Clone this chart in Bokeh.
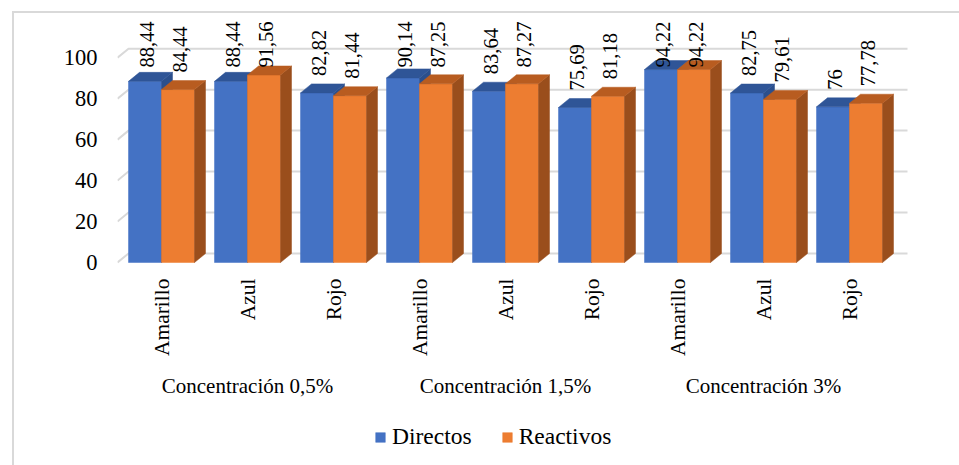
import math
from bokeh.plotting import figure
from bokeh.models import (Range1d, FixedTicker, Legend, LegendItem, ColumnDataSource)
from bokeh.core.properties import value
from bokeh.embed import file_html
from bokeh.resources import INLINE

# ---------------- data ----------------
groups = ["Concentración 0,5%", "Concentración 1,5%", "Concentración 3%"]
colores = ["Amarillo", "Azul", "Rojo"]
directos = [88.44, 88.44, 82.82, 90.14, 83.64, 75.69, 94.22, 82.75, 76.0]
reactivos = [84.44, 91.56, 81.44, 87.25, 87.27, 81.18, 94.22, 79.61, 77.78]
series_names = ["Directos", "Reactivos"]
y_ticks = [0, 20, 40, 60, 80, 100]

# ---------------- geometry (pixels -> data units) ----------------
FONT = "Liberation Serif"
W, H = 959, 465
FRAME_LEFT_PX = 117
FRAME_W, FRAME_H = W - FRAME_LEFT_PX, H
SLOT_PX = 86.0
FIRST_CENTER_PX = 161.0
PX_PER_Y = 2.048
ZERO_PX = 262.0            # canvas row of the value 0 (front plane)

x_start = (FRAME_LEFT_PX - FIRST_CENTER_PX) / SLOT_PX
x_end = (W - FIRST_CENTER_PX) / SLOT_PX
y_start = -(H - ZERO_PX) / PX_PER_Y
y_end = ZERO_PX / PX_PER_Y

def y_at(px):
    return (ZERO_PX - px) / PX_PER_Y

BW = 33.0 / SLOT_PX      # bar width
DX = 11.0 / SLOT_PX      # 3D depth (x)
DY = 9.0 / PX_PER_Y      # 3D depth (y)
GRID_END = (907 - FIRST_CENTER_PX) / SLOT_PX

BLUE, BLUE_TOP, BLUE_SIDE = "#4472C4", "#2F5597", "#2B4F8C"
ORANGE, ORANGE_TOP, ORANGE_SIDE = "#ED7D31", "#B85C20", "#9A4E1C"

p = figure(frame_width=FRAME_W, frame_height=FRAME_H,
           x_range=Range1d(x_start, x_end), y_range=Range1d(y_start, y_end),
           output_backend="svg", toolbar_location=None, x_axis_location=None,
           min_border_left=FRAME_LEFT_PX, min_border_right=0,
           min_border_top=0, min_border_bottom=0)
p.outline_line_color = None
p.xgrid.visible = False
p.ygrid.visible = False
p.background_fill_alpha = 0
p.border_fill_alpha = 0
# outer chart border (left and top edges visible in the window)
p.styles = {
    "background": ("linear-gradient(#D9D9D9, #D9D9D9) 12px 11px / 2px 100% no-repeat, "
                   "linear-gradient(#D9D9D9, #D9D9D9) 12px 11px / 100% 2px no-repeat, "
                   "#FFFFFF"),
}

# gridlines (front diagonal + back wall)
gx = [[x_start, x_start + DX, GRID_END] for _ in y_ticks]
gy = [[t, t + DY, t + DY] for t in y_ticks]
p.multi_line(gx, gy, line_color="#D9D9D9", line_width=2)

idx = list(range(len(directos)))

def faces(vals, left_off):
    tx, ty, sx, sy = [], [], [], []
    for i, v in zip(idx, vals):
        l = i + left_off
        r = l + BW
        tx.append([l, r, r + DX, l + DX]); ty.append([v, v, v + DY, v + DY])
        sx.append([r, r, r + DX, r + DX]); sy.append([0, v, v + DY, DY])
    return tx, ty, sx, sy

renderers = []
for vals, off, cf, ct, cs in [(directos, -BW, BLUE, BLUE_TOP, BLUE_SIDE),
                              (reactivos, 0.0, ORANGE, ORANGE_TOP, ORANGE_SIDE)]:
    src = ColumnDataSource(dict(left=[i + off for i in idx],
                                right=[i + off + BW for i in idx],
                                top=vals, bottom=[0] * len(vals)))
    r = p.quad(left="left", right="right", top="top", bottom="bottom", source=src,
               fill_color=cf, line_color=cf, line_width=0.5)
    renderers.append(r)
    tx, ty, sx, sy = faces(vals, off)
    p.patches(sx, sy, fill_color=cs, line_color=cs, line_width=0.5)
    p.patches(tx, ty, fill_color=ct, line_color=ct, line_width=0.5)

# data labels (rotated), pushed down when they would leave the chart top
LABEL_OFF = 17.0 / PX_PER_Y
LABEL_MAX = y_at(67)

def fmt(v):
    return ("%g" % v).replace(".", ",")

for vals, off in [(directos, -BW / 2), (reactivos, BW / 2)]:
    txt = [fmt(v) for v in vals]
    ys = [min(v + LABEL_OFF, LABEL_MAX) if len(t) > 3 else v + LABEL_OFF
          for v, t in zip(vals, txt)]
    src = ColumnDataSource(dict(x=[i + off + 2.0 / SLOT_PX for i in idx], y=ys, t=txt))
    p.text(x="x", y="y", text="t", source=src, angle=math.pi / 2,
           text_align="left", text_baseline="middle",
           text_font=value(FONT), text_font_size="20.5px", text_color="#000000")

# y axis
p.yaxis.ticker = FixedTicker(ticks=y_ticks)
p.yaxis.axis_line_color = None
p.yaxis.major_tick_line_color = None
p.yaxis.minor_tick_line_color = None
p.yaxis.major_tick_out = 0
p.yaxis.major_label_standoff = 20
p.yaxis.major_label_text_font = FONT
p.yaxis.major_label_text_font_size = "22.5px"
p.yaxis.major_label_text_color = "#000000"

# category labels (vertical) under each pair of bars
cat_labels = [c for g in groups for c in colores]
cat_src = ColumnDataSource(dict(x=idx, y=[y_at(278)] * len(idx), t=cat_labels))
p.text(x="x", y="y", text="t", source=cat_src, angle=math.pi / 2,
       text_align="right", text_baseline="middle",
       text_font=value(FONT), text_font_size="21.5px", text_color="#000000")

# group labels centred under their three categories
n_per = len(colores)
gx_c = [sum(idx[k * n_per:(k + 1) * n_per]) / n_per for k in range(len(groups))]
grp_src = ColumnDataSource(dict(x=gx_c, y=[y_at(385)] * len(groups), t=groups))
p.text(x="x", y="y", text="t", source=grp_src,
       text_align="center", text_baseline="middle",
       text_font=value(FONT), text_font_size="21px", text_color="#000000")

# legend (offset from the frame's bottom-left corner, in pixels)
legend = Legend(items=[LegendItem(label=series_names[0], renderers=[renderers[0]]),
                       LegendItem(label=series_names[1], renderers=[renderers[1]])],
                orientation="horizontal", location=(257, 15),
                glyph_width=12, glyph_height=12, label_standoff=6, spacing=29,
                label_text_font=FONT, label_text_font_size="23.5px",
                label_text_color="#000000", margin=0, padding=0,
                border_line_color=None, background_fill_alpha=0)
p.add_layout(legend, "center")

open("out.html", "w").write(file_html(p, INLINE))
